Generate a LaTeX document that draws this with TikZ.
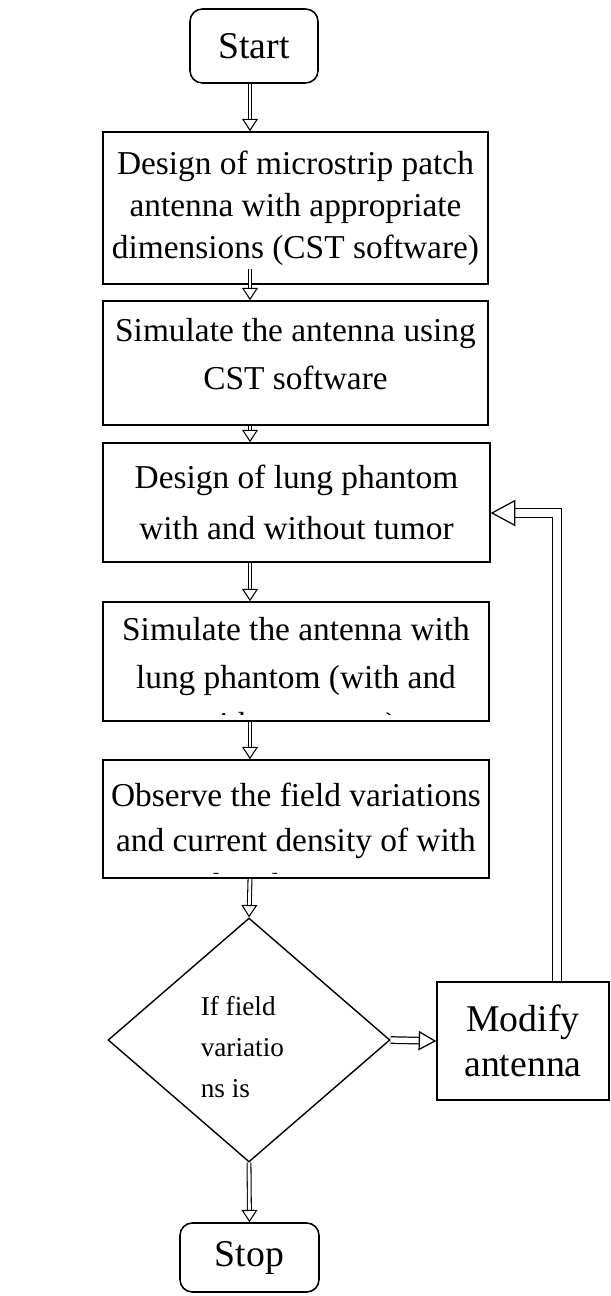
\documentclass[tikz,border=0pt]{standalone}
\usepackage{fontspec}
\setmainfont{Liberation Serif}
\usetikzlibrary{arrows.meta,shapes.geometric}

\begin{document}
\begin{tikzpicture}[x = 0.02cm, y = -0.02cm, line width = 0.9pt,
                        box/.style = {rectangle, draw, inner sep = 0pt},
                        term/.style = {rectangle, draw, rounded corners = 7pt, inner sep = 0pt},
                        body/.style = {align = center, inner sep = 0pt, font = \fontsize{19}{#1}\selectfont},
                        big/.style = {align = center, inner sep = 0pt, font = \fontsize{21.5}{#1}\selectfont},
                        flow/.style = {double, double distance = 1.6pt, line width = 0.6pt,
                                       -{Triangle[open, length = 7pt, width = 9pt, line width = 0.6pt]}},
                        side/.style = {double, double distance = 3pt, line width = 0.7pt,
                                       -{Triangle[open, length = 10pt, width = 11pt, line width = 0.7pt]}},
                        back/.style = {double, double distance = 4pt, line width = 0.7pt,
                                       -{Triangle[open, length = 14pt, width = 15pt, line width = 0.7pt]}}]
      \useasboundingbox (0, 0) rectangle (611, 1296);
      \coordinate (spine) at (250, 0);
      \coordinate (loop) at (557, 0);
      % terminals and steps
      \node [term, minimum width = 25.6mm, minimum height = 14.8mm, big = 22pt] (start) at (254, 46) {Start};
      \node [box, minimum width = 77mm, minimum height = 30.4mm, body = 24pt] (design) at (295.5, 208)
            {Design of microstrip patch\\antenna with appropriate\\dimensions (CST software)};
      \node [box, minimum width = 77mm, minimum height = 24.8mm] (simant) at (295.5, 363) {};
      \node [body = 27pt] (simant-t) at (295.5, 354) {Simulate the antenna using\\CST software};
      \node [box, minimum width = 77.4mm, minimum height = 23.8mm, body = 29pt] (lung) at (296.5, 502.5)
            {Design of lung phantom\\with and without tumor};
      \node [box, minimum width = 77.2mm, minimum height = 23.8mm] (simlung) at (296, 661.5) {};
      \begin{scope}
        \clip (103, 602) rectangle (489, 714);
        \node [body = 27pt] (simlung-t) at (296, 680) {Simulate the antenna with\\lung phantom (with and\\without tumor)};
      \end{scope}
      \node [box, minimum width = 77.2mm, minimum height = 23.6mm] (observe) at (296, 819) {};
      \begin{scope}
        \clip (103, 760) rectangle (489, 873);
        \node [body = 25.5pt] (observe-t) at (296, 840) {Observe the field variations\\and current density of with\\and without tumor};
      \end{scope}
      \node [diamond, draw, inner sep = 0pt, line width = 0.8pt, minimum width = 56.4mm, minimum height = 48.8mm] (check) at (249, 1040) {};
      \node [anchor = north west, align = left, inner sep = 0pt, font = \fontsize{15.5}{23.3}\selectfont] (check-t) at (200, 996)
            {If field\\variatio\\ns is};
      \node [box, minimum width = 34.4mm, minimum height = 23.6mm, big = 25.5pt] (modify) at (523, 1041) {Modify\\antenna};
      \node [term, minimum width = 27.8mm, minimum height = 13.8mm, big = 22pt] (stop) at (249.5, 1257.5) {Stop};
      % connectors
      \draw [flow] (start.south -| spine) -- (design.north -| spine);
      \draw [flow] ([yshift = 3.2mm]design.south -| spine) -- (simant.north -| spine);
      \draw [flow] (simant.south -| spine) -- (lung.north -| spine);
      \draw [flow] (lung.south -| spine) -- (simlung.north -| spine);
      \draw [flow] (simlung.south -| spine) -- (observe.north -| spine);
      \draw [flow] (observe.south -| spine) -- (check.north);
      \draw [flow] (check.south) -- (stop.north);
      \draw [side] (check.east) -- (modify.west);
      \draw [back] (modify.north -| loop) |- ([yshift = -2.1mm]lung.east);
    \end{tikzpicture}
\end{document}
